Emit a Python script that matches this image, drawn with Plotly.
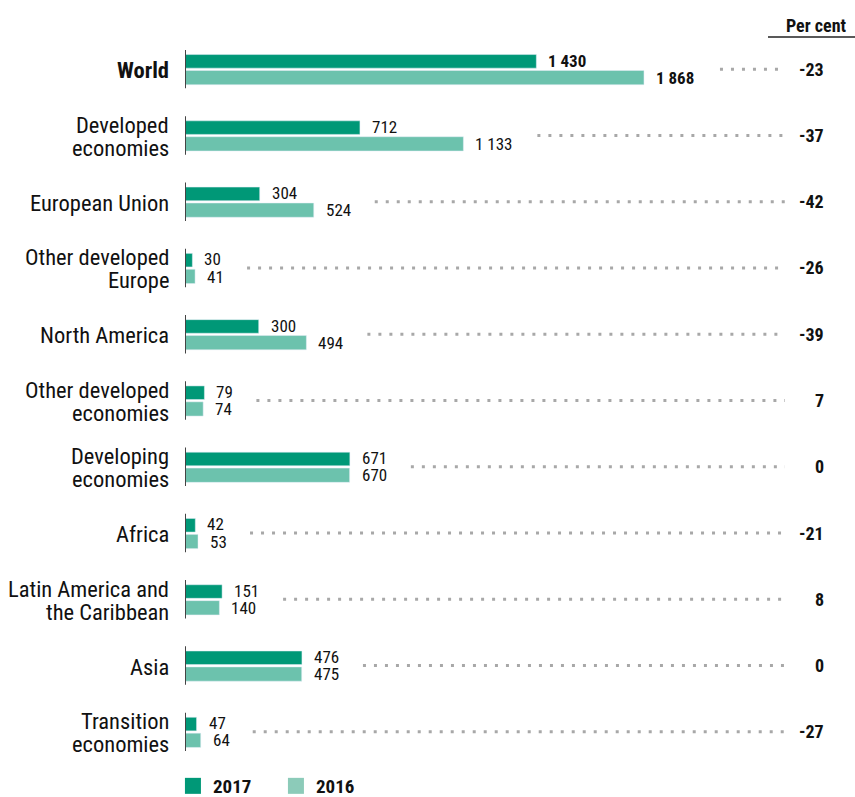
import plotly.graph_objects as go

categories = ["World", "Developed<br>economies", "European Union", "Other developed<br>Europe",
              "North America", "Other developed<br>economies", "Developing<br>economies", "Africa",
              "Latin America and<br>the Caribbean", "Asia", "Transition<br>economies"]
v2017 = [1430, 712, 304, 30, 300, 79, 671, 42, 151, 476, 47]
v2016 = [1868, 1133, 524, 41, 494, 74, 670, 53, 140, 475, 64]
pct = [-23, -37, -42, -26, -39, 7, 0, -21, 8, 0, -27]

C17 = "#009877"
C16 = "#6cc2ad"
FONT = "Liberation Sans Narrow, Arial Narrow, Roboto Condensed, Liberation Sans, Arial, sans-serif"

W, H = 855, 797
ML, MR, MT, MB = 185, 0, 36, 32
PW = W - ML - MR
PH = H - MT - MB
SCALE = 0.2457  # px per unit
XMAX = PW / SCALE

def fmt(v):
    return f"{v:,}".replace(",", " ")

n = len(categories)
ys = list(range(n))

fig = go.Figure()
fig.add_trace(go.Bar(y=ys, x=v2017, orientation="h", name="2017", marker_color=C17,
                     offset=-0.22, width=0.205, hoverinfo="x", showlegend=False))
fig.add_trace(go.Bar(y=ys, x=v2016, orientation="h", name="2016", marker_color=C16,
                     offset=0.02, width=0.215, hoverinfo="x", showlegend=False))

ann = []
shapes = []
for i in range(n):
    bold = i == 0
    lines = categories[i].split("<br>")
    nl = len(lines)
    for k, ln in enumerate(lines):
        shift = (k - (nl - 1) / 2) * 23
        ann.append(dict(x=0, y=i, xref="x", yref="y", text=f"<b>{ln}</b>" if bold else ln,
                        xanchor="right", yanchor="middle", xshift=-14, yshift=-shift - 1,
                        showarrow=False, font=dict(size=22.5, color="#111", family=FONT)))
    for val, yo in ((v2017[i], -0.13), (v2016[i], 0.13)):
        t = fmt(val)
        ann.append(dict(x=val, y=i + yo, xref="x", yref="y",
                        text=f"<b>{t}</b>" if bold else t,
                        xanchor="left", yanchor="middle", xshift=10, showarrow=False,
                        font=dict(size=17, color="#111", family=FONT)))
    ann.append(dict(x=(826 - ML) / PW, y=i, xref="paper", yref="y", text=f"<b>{pct[i]}</b>",
                    xanchor="right", yanchor="middle", showarrow=False,
                    font=dict(size=18, color="#111", family=FONT)))
    shapes.append(dict(type="line", xref="x", yref="y", x0=0, x1=0, y0=i - 0.29, y1=i + 0.29,
                       line=dict(color="#444", width=2)))
    mx = max(v2017[i], v2016[i])
    t = fmt(mx)
    nd = sum(ch.isdigit() for ch in t)
    ns = t.count(" ")
    tw = nd * (9.5 if bold else 9) + ns * 4
    start_px = mx * SCALE + 10 + tw + 24
    end_px = 785 - ML
    fig.add_trace(go.Scatter(x=[start_px / SCALE, end_px / SCALE], y=[i, i], mode="lines",
                             line=dict(color="#a8a8a8", width=3, dash="3px,8px"),
                             showlegend=False, hoverinfo="skip"))

for nm, col in (("2017", C17), ("2016", "#8ccbb9")):
    fig.add_trace(go.Scatter(x=[None], y=[None], mode="markers", name=f"<b>{nm}</b>",
                             marker=dict(symbol="square", size=18, color=col),
                             showlegend=True, hoverinfo="skip"))

ann.append(dict(x=(849 - ML) / PW, y=1 + (MT - 25) / PH, xref="paper", yref="paper",
                text="<b>Per cent</b>", xanchor="right", yanchor="middle", showarrow=False,
                font=dict(size=18, color="#111", family=FONT)))
shapes.append(dict(type="line", xref="paper", yref="paper", x0=(768 - ML) / PW, x1=1,
                   y0=1 + (MT - 37) / PH, y1=1 + (MT - 37) / PH,
                   line=dict(color="#222", width=1.5)))

fig.update_layout(
    width=W, height=H,
    margin=dict(l=ML, r=MR, t=MT, b=MB, autoexpand=False),
    plot_bgcolor="white", paper_bgcolor="white",
    barmode="overlay",
    font=dict(family=FONT, color="#111"),
    xaxis=dict(range=[0, XMAX], visible=False, fixedrange=True),
    yaxis=dict(range=[n - 0.5, -0.5], showticklabels=False, showgrid=False, zeroline=False,
               showline=False, ticks="", fixedrange=True),
    annotations=ann, shapes=shapes,
    legend=dict(orientation="h", x=-0.018, xanchor="left", y=1 - (786 - MT) / PH, yanchor="middle",
                font=dict(size=19, family=FONT, color="#111"), itemsizing="trace",
                traceorder="normal", bgcolor="rgba(0,0,0,0)", entrywidth=58, itemclick=False),
    showlegend=True,
)
fig.write_html("out.html", config={"displayModeBar": False},
               post_script="document.body.style.margin='0';document.body.style.overflow='hidden';")
